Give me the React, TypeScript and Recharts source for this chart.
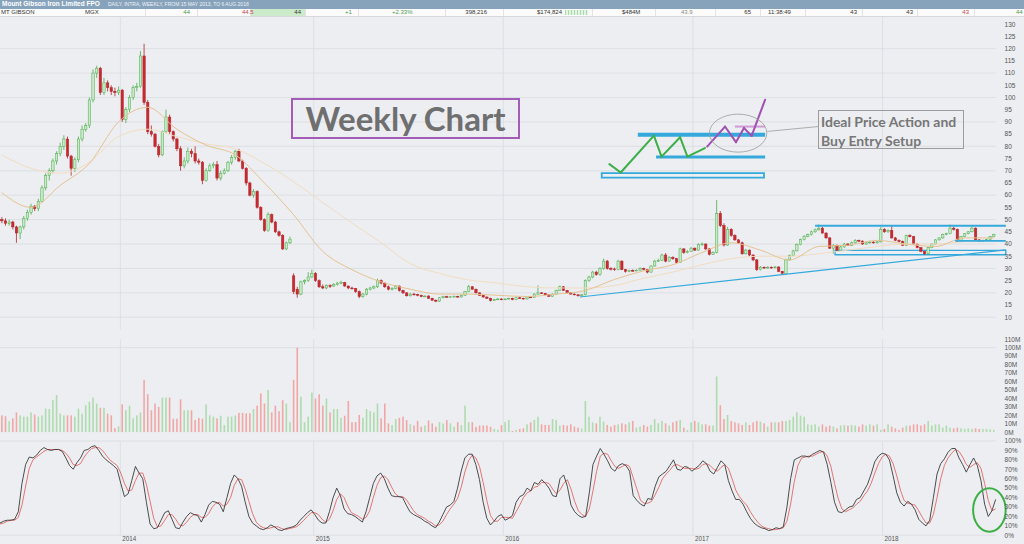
import React from 'react';
import {
  ComposedChart,
  Bar,
  Line,
  XAxis,
  YAxis,
  CartesianGrid,
  ReferenceLine,
  ReferenceArea,
  ReferenceDot,
} from 'recharts';

// MGX weekly bars, 15 May 2013 .. 6 Aug 2018, [open, high, low, close] in cents
const candles2013 = [
  [50, 51, 48.5, 49.5], [49.5, 50.5, 47.5, 48.5], [48.5, 50, 47.5, 49], [49, 49.5, 46, 47], [47, 47.5, 40.5, 44.5],
  [44.5, 47.5, 42, 47], [47, 51.5, 46, 50.5], [50.5, 54, 49.5, 53], [53, 56.5, 52, 55.5], [55.5, 56, 53.5, 54.5],
  [54.5, 58.5, 53.5, 57.5], [57.5, 64, 57, 63], [63, 69, 62, 68], [68, 71, 66, 70], [70, 75, 69, 74],
  [74, 78, 72.5, 77], [77, 81.5, 76, 80], [80, 84.5, 78.5, 83], [83, 84, 75, 76], [76, 76.5, 68, 71],
  [71, 75.5, 69.5, 74.5], [74.5, 84, 73.5, 83], [83, 88.5, 82, 87], [87, 89.5, 86, 88.5], [88.5, 100, 87.5, 99],
  [99, 111.5, 98, 110], [110, 113, 108, 112], [112, 112.5, 101, 102], [102, 108, 101, 106], [106, 107, 102.5, 104],
  [104, 105, 101, 102.5], [102.5, 104, 100.5, 102], [102, 104.5, 101, 103],
];
const candles2014 = [
  [103, 103.5, 90, 91], [91, 96, 89.5, 95], [95, 101, 94, 100], [100, 105, 99, 104], [104, 106, 102.5, 104.5],
  [104.5, 119, 104, 117], [117, 122, 97, 98], [98, 99, 85, 86], [86, 88.5, 84, 85], [85, 85.5, 79.5, 80],
  [80, 81, 75.5, 76.5], [76.5, 86.5, 76, 86], [86, 95, 85.5, 92], [92, 93, 85, 86], [86, 86.5, 82, 83],
  [83, 83.5, 78, 79], [79, 80, 70, 72], [72, 75.5, 71, 74], [74, 79.5, 73, 78], [78, 79, 75.5, 77],
  [77, 80, 73, 74], [74, 75, 72.5, 73.5], [73.5, 74, 64.5, 66], [66, 71, 65.5, 70], [70, 73, 69.5, 72],
  [72, 73.5, 71, 72.5], [72.5, 74, 66, 67], [67, 70, 66, 69], [69, 71, 68.5, 70], [70, 74, 69.5, 73.5],
  [73.5, 76.5, 72.5, 75.5], [75.5, 78.5, 74.5, 78], [78, 79, 73.5, 74], [74, 74.5, 70.5, 71], [71, 71.5, 64, 65],
  [65, 65.5, 59.5, 60], [60, 62.5, 59, 61.5], [61.5, 62, 54.5, 55], [55, 55.5, 49.5, 50], [50, 50.5, 45, 45.5],
  [45.5, 53, 45, 52], [52, 52.5, 48.5, 49], [49, 49.5, 44.5, 45], [45, 45.5, 43, 43.5], [43.5, 44, 37.5, 38],
  [38, 41, 37.5, 40.5], [40.5, 43, 40, 42], [27, 28, 19.5, 20.5], [21.5, 22.5, 18, 19.5], [19.5, 25, 19, 24.5],
  [24.5, 25.5, 23.5, 25], [25, 28.5, 24.5, 26.5],
];
const candles2015 = [
  [26.5, 29.5, 26, 28], [28, 28.5, 24.5, 25], [25, 25.5, 22, 22.5], [22.5, 23.5, 21.5, 22], [22, 23.5, 21.5, 23],
  [23, 23.5, 22, 22.8], [22.8, 24, 22.5, 23.5], [23.5, 24.5, 23, 24], [24, 25, 23.5, 24.2], [24.2, 24.5, 22.5, 22.8],
  [22.8, 23, 21.5, 22], [22, 22.5, 21.3, 21.8], [21.8, 22, 20, 20.5], [20.5, 21, 17.8, 18.5], [18.5, 20, 18, 19.5],
  [19.5, 22, 19, 21.5], [21.5, 22.5, 21, 22], [22, 23, 21.5, 22.5], [22.5, 25.8, 22, 25], [25, 25.5, 23.5, 24],
  [24, 24.3, 22, 22.5], [22.5, 23, 21, 21.5], [21.5, 22.3, 21, 21.8], [21.8, 23.2, 21.5, 22.8], [22.8, 23, 20.5, 21],
  [21, 21.3, 19.5, 20], [20, 20.3, 18.5, 18.8], [18.8, 20, 18.5, 19.5], [19.5, 20, 19, 19.3], [19.3, 19.6, 18.6, 19],
  [19, 19.3, 18.2, 18.5], [18.5, 19, 18.2, 18.7], [18.7, 19, 17.5, 17.8], [17.8, 18, 16.8, 17], [17, 17.3, 16.2, 16.6],
  [16.6, 18.3, 16.4, 18], [18, 18.8, 17.7, 18.5], [18.5, 18.8, 18, 18.2], [18.2, 18.7, 18, 18.4], [18.4, 18.9, 18.2, 18.6],
  [18.6, 18.8, 18, 18.3], [18.3, 19.3, 18.1, 19], [19, 20.8, 18.8, 20.5], [20.5, 23.2, 20.3, 22.5], [22.5, 22.8, 21.2, 21.5],
  [21.5, 21.7, 19.8, 20], [20, 20.2, 18.8, 19], [19, 19.2, 18, 18.3], [18.3, 18.5, 17.5, 17.8], [17.8, 18, 16.5, 16.8],
  [16.8, 17.5, 16.6, 17.2], [17.2, 17.8, 17, 17.5],
];
const candles2016 = [
  [17.5, 17.8, 17, 17.2], [17.2, 17.7, 17, 17.5], [17.5, 18, 17.3, 17.8], [17.8, 18, 17, 17.2], [17.2, 18.2, 17, 18],
  [18, 18.3, 17.6, 17.8], [17.8, 18, 17.3, 17.5], [17.5, 18.5, 17.3, 18.3], [18.3, 18.6, 18, 18.2], [18.2, 19.8, 18, 19.5],
  [19.5, 23, 19.3, 20], [20, 20.3, 19.5, 19.8], [19.8, 20, 19, 19.2], [19.2, 19.4, 18.4, 18.6], [18.6, 19.7, 18.4, 19.5],
  [19.5, 21.3, 19.3, 21], [21, 23, 20.8, 22.5], [22.5, 22.8, 20.8, 21], [21, 21.2, 19.8, 20], [20, 20.2, 19.3, 19.5],
  [19.5, 19.8, 19, 19.2], [19.2, 19.4, 18.5, 18.8], [18.8, 19.5, 18.5, 19.2], [19.2, 25.5, 19, 25], [25, 27, 24.5, 26.5],
  [26.5, 29, 26, 28.5], [28.5, 29, 27, 27.5], [27.5, 30.5, 27, 30], [30, 34, 29.5, 33], [33, 33.5, 29.5, 30],
  [30, 30.5, 29.2, 29.8], [29.8, 30.3, 29, 29.5], [29.5, 33.5, 29.2, 33], [33, 33.3, 29.3, 29.5], [29.5, 29.8, 28.3, 28.8],
  [28.8, 29.5, 28.5, 29.2], [29.2, 29.6, 28.6, 29], [29, 29.6, 28.8, 29.3], [29.3, 30.5, 29, 30], [30, 30.3, 29.3, 29.6],
  [29.6, 29.8, 28, 28.5], [28.5, 31.3, 28.3, 31], [31, 33.5, 30.8, 33], [33, 34, 32.6, 33.3], [33.3, 36, 33, 35.5],
  [35.5, 36.3, 32.5, 33], [33, 35, 32.8, 34.5], [34.5, 35, 33.5, 34], [34, 34.3, 32, 32.5], [32.5, 38.5, 32.3, 38],
  [38, 38.3, 36, 36.5], [36.5, 37.5, 36.2, 37],
];
const candles2017 = [
  [37, 38.8, 36.8, 38.3], [38.3, 38.6, 37.2, 37.5], [37.5, 40.3, 37.3, 39.8], [39.8, 40.6, 39.3, 40], [40, 40.2, 37.6, 38],
  [38, 38.3, 35.3, 35.8], [35.8, 37, 35.5, 36.5], [36.5, 58, 36.2, 52.5], [52.5, 53.5, 47, 47.5], [47.5, 48.5, 39, 39.6],
  [39.6, 47, 39.3, 46], [46, 46.5, 43, 43.5], [43.5, 44, 41.3, 41.7], [41.7, 42, 40, 40.5], [40.5, 41, 35.6, 36],
  [36, 38, 35.7, 37.5], [37.5, 37.8, 35, 35.5], [35.5, 35.8, 33, 33.5], [33.5, 33.8, 29, 29.5], [29.5, 31, 29.2, 30.5],
  [30.5, 30.8, 29.8, 30.2], [30.2, 30.9, 29.9, 30.5], [30.5, 30.8, 29.9, 30.3], [30.3, 31, 30, 30.6], [30.6, 30.9, 28.5, 28.8],
  [28.8, 29, 27.6, 28], [28, 34, 27.8, 33.5], [33.5, 35.7, 33.2, 35.2], [35.2, 37.6, 35, 37.2], [37.2, 40.2, 37, 39.8],
  [39.8, 42.2, 39.5, 41.8], [41.8, 43.6, 41.5, 43.2], [43.2, 44.2, 42.8, 43.8], [43.8, 45.5, 43.5, 45], [45, 46.3, 44.6, 45.8],
  [45.8, 48, 45.5, 46.5], [46.5, 47, 44.2, 44.5], [44.5, 44.8, 42.2, 42.5], [42.5, 42.8, 38, 38.3], [38.3, 40, 36, 39.5],
  [39.5, 39.8, 37.2, 37.5], [37.5, 39.2, 37.2, 38.8], [38.8, 40.4, 38.5, 40], [40, 40.4, 39.2, 39.5], [39.5, 41, 39.2, 40.5],
  [40.5, 42, 40.2, 41.5], [41.5, 41.8, 40.8, 41.2], [41.2, 41.5, 39.7, 40], [40, 40.9, 39.7, 40.5], [40.5, 41.1, 40.2, 40.8],
  [40.8, 41.1, 40.2, 40.5], [40.5, 41.2, 40.2, 40.9],
];
const candles2018 = [
  [40.9, 47, 40.6, 46], [46, 46.5, 44.6, 45], [45, 46, 44.6, 45.6], [45.6, 47.5, 42.2, 42.5], [42.5, 42.9, 41.2, 41.5],
  [41.5, 41.9, 40.7, 41], [41, 41.4, 39.2, 39.5], [39.5, 43.8, 39.2, 43.5], [43.5, 44, 42.7, 43], [43, 43.3, 39.7, 40],
  [40, 40.3, 38.2, 38.5], [38.5, 38.8, 36.7, 37], [37, 37.3, 35.5, 36], [36, 38.8, 35.8, 38.5], [38.5, 40.3, 38.3, 40],
  [40, 42, 39.8, 41.7], [41.7, 42.8, 41.4, 42.5], [42.5, 44.3, 42.2, 44], [44, 44.6, 43.6, 44.3], [44.3, 48, 44, 46.5],
  [46.5, 47, 45.5, 46], [46, 46.3, 41, 41.2], [41.2, 43.3, 41, 43], [43, 44.5, 42.8, 44.2], [44.2, 45.3, 44, 45],
  [45, 47.5, 44.8, 46.5], [46.5, 46.8, 41.5, 41.7], [41.7, 42, 40.9, 41.2], [41.2, 41.8, 40.9, 41.5], [41.5, 42.2, 41.2, 41.8],
  [41.8, 43.3, 41.6, 43], [43, 44.2, 42.8, 44],
];

// weekly volume, millions of shares
const volume2013 = [20, 19, 13, 16.5, 23.5, 20, 18.5, 18.5, 23.5, 21, 18.5, 20, 28, 27.5, 38, 44, 22, 20, 20, 20, 18.5, 28, 22, 32, 36, 41, 34, 29, 29, 22, 20, 5, 7];
const volume2014 = [33, 26, 31.5, 16.5, 20, 23.5, 62, 45, 26, 34, 30, 41, 41, 41, 16, 16, 39, 26, 26, 26, 14.5, 17, 16, 33, 20, 18.5, 16.5, 19.5, 8.5, 18.5, 18.5, 20, 23, 23, 22.5, 22.5, 27.5, 31.5, 46, 34, 50, 23.5, 31.5, 25, 38, 34, 12, 62, 100, 42, 12, 18.5];
const volume2015 = [47, 40, 45, 31.5, 40, 23.5, 27.5, 27.5, 17, 19.5, 37, 12, 12, 20.5, 17, 27.5, 25, 23.5, 34, 16.5, 34, 10.5, 8.5, 15.5, 17, 18.5, 14.5, 9.5, 8, 13.5, 6.5, 8, 14, 10.5, 6.5, 12, 10.5, 14.5, 10.5, 6.5, 12, 8.5, 31.5, 12, 12, 6.5, 8, 8, 8, 6.5, 4, 3];
const volume2016 = [8.5, 12, 14.5, 1.6, 2.8, 4, 4.7, 9.4, 11.8, 14.6, 18.5, 9.4, 8.7, 8.7, 15.7, 14.6, 7.9, 8.7, 7.9, 9.4, 6.7, 5.5, 4.7, 37, 18.5, 11.8, 10.6, 18.5, 12.6, 8.7, 6.7, 8.7, 9.4, 10.6, 9.4, 11.8, 13.4, 5.5, 6.7, 8.7, 6.7, 8.7, 15.7, 10.6, 13.4, 10.6, 7.9, 11.8, 13.4, 14.6, 5.5, 2.8];
const volume2017 = [11.8, 13.4, 11.8, 9.4, 9.4, 7.9, 7.9, 66, 32, 15.7, 20.5, 13.4, 11.8, 10.6, 8.7, 11.8, 8.7, 11.8, 13.4, 12.6, 10.6, 6.7, 11.8, 11.8, 11.8, 13.4, 13.4, 14.6, 18.5, 23.6, 19.7, 18.5, 9.4, 8.7, 9.4, 6.7, 9.4, 6.7, 7.9, 6.7, 4.7, 7.9, 8.7, 7.9, 8.7, 7.9, 6.7, 9.4, 7.9, 9.4, 7.9, 9.4];
const volume2018 = [2.8, 4, 9.4, 6.7, 4.7, 2.8, 5.5, 7.9, 7.9, 9.4, 9.4, 7.9, 9.4, 13.4, 7.9, 9.4, 9.4, 5.5, 7.9, 5.5, 4.7, 5.5, 4.7, 4, 4.7, 4, 4.7, 4, 4, 4, 3.5, 3];

// slow stochastic, %K (black) and %D (red)
const stochK2013 = [13, 15, 16, 16, 17, 25, 55, 75, 83, 82, 85, 90, 93, 91, 90, 91, 91, 89, 82, 74, 70, 77, 82, 90, 91, 94, 95, 90, 84, 80, 77, 74, 70];
const stochK2014 = [55, 41, 44, 58, 73, 66, 60, 35, 12, 7, 8, 16, 24, 26, 17, 8, 7, 14, 20, 24, 22, 21, 14, 22, 32, 36, 35, 33, 25, 40, 55, 64, 60, 52, 35, 20, 13, 10, 7, 6, 8, 11, 9, 6, 5, 7, 8, 9, 11, 16, 20, 24];
const stochK2015 = [27, 22, 16, 13, 13, 25, 40, 50, 42, 28, 23, 22, 20, 17, 14, 25, 40, 55, 63, 66, 60, 50, 42, 41, 41, 40, 32, 25, 22, 20, 18, 15, 13, 10, 8, 14, 22, 30, 32, 36, 50, 68, 82, 86, 86, 75, 59, 35, 18, 11, 15, 20];
const stochK2016 = [22, 16, 18, 21, 35, 41, 43, 50, 47, 56, 54, 59, 55, 50, 42, 41, 60, 64, 52, 32, 25, 21, 19, 20, 45, 75, 84, 92, 86, 79, 71, 68, 74, 76, 74, 68, 42, 37, 33, 31, 39, 38, 52, 62, 65, 68, 74, 80, 70, 69, 73, 72];
const stochK2017 = [68, 71, 74, 79, 76, 68, 65, 72, 79, 75, 58, 47, 38, 38, 33, 25, 18, 13, 10, 8, 7, 5, 6, 8, 7, 9, 30, 60, 80, 82, 84, 84, 83, 86, 88, 90, 88, 75, 56, 35, 25, 24, 27, 30, 31, 38, 40, 47, 54, 65, 78, 84];
const stochK2018 = [87, 86, 80, 63, 45, 35, 31, 36, 33, 27, 17, 13, 10, 16, 40, 65, 76, 81, 88, 92, 92, 82, 75, 67, 75, 82, 74, 58, 33, 20, 26, 38];
const stochD2013 = [12, 13, 15, 16, 16, 19, 32, 52, 71, 80, 83, 86, 89, 91, 91, 91, 91, 90, 87, 82, 75, 74, 76, 83, 88, 92, 93, 93, 90, 85, 80, 77, 74];
const stochD2014 = [66, 55, 47, 48, 58, 66, 66, 54, 36, 18, 9, 10, 16, 22, 22, 17, 11, 10, 14, 19, 22, 22, 19, 19, 23, 30, 34, 35, 31, 33, 40, 53, 60, 59, 49, 36, 23, 14, 10, 8, 7, 8, 9, 9, 7, 6, 7, 8, 9, 12, 16, 20];
const stochD2015 = [24, 24, 22, 17, 14, 17, 26, 38, 44, 40, 31, 24, 22, 20, 17, 19, 26, 40, 53, 61, 63, 59, 51, 44, 41, 41, 38, 32, 26, 22, 20, 18, 15, 13, 10, 11, 15, 22, 28, 33, 39, 51, 67, 79, 85, 82, 73, 56, 37, 21, 15, 15];
const stochD2016 = [19, 19, 19, 18, 25, 32, 40, 45, 47, 51, 52, 56, 56, 55, 49, 44, 48, 55, 59, 49, 36, 26, 22, 20, 28, 47, 68, 84, 87, 86, 79, 73, 71, 73, 75, 73, 61, 49, 37, 34, 34, 36, 43, 51, 60, 65, 69, 74, 75, 73, 71, 71];
const stochD2017 = [71, 70, 71, 75, 76, 74, 70, 68, 72, 75, 71, 60, 48, 41, 36, 32, 25, 19, 14, 10, 8, 7, 6, 6, 7, 8, 15, 33, 57, 74, 82, 83, 84, 84, 86, 88, 89, 84, 73, 55, 39, 28, 25, 27, 29, 33, 36, 42, 47, 55, 66, 76];
const stochD2018 = [83, 86, 84, 76, 63, 48, 37, 34, 33, 32, 26, 19, 13, 13, 22, 40, 60, 74, 82, 87, 91, 89, 83, 75, 72, 75, 77, 71, 55, 37, 26, 28];

// moving averages read every 8th week
const MA_STEP = 8;
const maFast = [61, 55, 64, 73, 90, 96, 87, 80.5, 76.5, 65, 52, 37, 29.5, 24.5, 21.5, 19.5, 19.5, 19, 18.5, 19.5, 21, 25.5, 29, 31.5, 36.5, 40.5, 37.5, 33.5, 39, 39.5, 41.5, 40, 39, 42.5, 42.5];
const maSlow = [76.5, 71, 69, 73.5, 84, 87, 84, 81, 79, 73, 65.5, 57, 48.6, 40.5, 32, 28, 25.3, 24, 22.5, 22, 22, 23, 26, 28.5, 31.5, 34, 35, 35, 36, 37.5, 39, 40, 40, 41, 41.5];

const yearLabels = ['2014', '2015', '2016', '2017', '2018'];
const yearFirstWeek = [33, 86, 138, 190, 242];
const priceTicks = [10, 15, 20, 25, 30, 35, 40, 45, 50, 55, 60, 65, 70, 75, 80, 85, 90, 95, 100, 105, 110, 115, 120, 125, 130];
const priceGrid = [10, 20, 30, 40, 50, 60, 70, 80, 90, 100, 110, 120];
const volumeTicks = [0, 10, 20, 30, 40, 50, 60, 70, 80, 90, 100, 110];
const stochTicks = [0, 10, 20, 30, 40, 50, 60, 70, 80, 90, 100];

// hand-drawn annotations, in (week, cents)
const greenSketch = [[167.1, 72.7], [170.2, 69.3], [179.3, 84.4], [181.4, 75.8], [186.5, 83.7], [188.5, 75.8], [193.3, 79.3]];
const purpleSketch = [[193.9, 79.9], [198.8, 88.1], [201.8, 81.7], [204, 87.5], [206.1, 84.3], [209.8, 99.1]];

const candles = [...candles2013, ...candles2014, ...candles2015, ...candles2016, ...candles2017, ...candles2018];
const volumes = [...volume2013, ...volume2014, ...volume2015, ...volume2016, ...volume2017, ...volume2018];
const stochK = [...stochK2013, ...stochK2014, ...stochK2015, ...stochK2016, ...stochK2017, ...stochK2018];
const stochD = [...stochD2013, ...stochD2014, ...stochD2015, ...stochD2016, ...stochD2017, ...stochD2018];

const data = candles.map(([o, h, l, c], i) => ({
  i,
  u: i + 0.5,
  o,
  h,
  l,
  c,
  range: [l, h],
  up: c >= o,
  vol: volumes[i],
  k: stochK[i],
  d: stochD[i],
  maFast: i % MA_STEP === 0 ? maFast[i / MA_STEP] : null,
  maSlow: i % MA_STEP === 0 ? maSlow[i / MA_STEP] : null,
}));

const WIDTH = 1024;
const AXIS_W = 28.4;
const WEEKS = 273;
const BG = '#eceef1';
const GRID = '#d9dce1';
const CYAN = '#35a9dc';
const FONT = '"Liberation Sans", Arial, sans-serif';

function Candle(props: any) {
  const { x, y, width, height, payload } = props;
  const { o, h, l, c, up } = payload;
  const top = Math.min(y, y + height);
  const span = Math.abs(height);
  const k = span / (h - l);
  const cx = x + width / 2;
  const yO = top + (h - o) * k;
  const yC = top + (h - c) * k;
  const bodyTop = Math.min(yO, yC);
  const bodyH = Math.max(Math.abs(yO - yC), 0.8);
  const line = up ? '#4dab4d' : '#b3242a';
  return (
    <g>
      <line x1={cx} x2={cx} y1={top} y2={top + span} stroke={line} strokeWidth={0.8} />
      <rect x={cx - 1.2} y={bodyTop} width={2.4} height={bodyH} fill={up ? '#c6e9c6' : '#c8292f'} stroke={line} strokeWidth={0.5} />
    </g>
  );
}

function VolumeBar(props: any) {
  const { x, y, width, height, payload } = props;
  const cx = x + width / 2;
  return <rect x={cx - 0.8} y={y} width={1.6} height={Math.max(height, 0)} fill={payload.up ? '#aedcae' : '#f2a7a7'} />;
}

const rightTick = (suffix: string) => (props: any) => (
  <text x={props.x} y={props.y + 2.3} fontSize={6.5} fill="#555" textAnchor="start" fontFamily={FONT}>
    {props.payload.value}
    {suffix}
  </text>
);

// year label under the stochastic panel, hung off a reference line's view box
const yearLabel = (label: string) => (p: any) => {
  const vb = p.viewBox || {};
  return (
    <text x={vb.x + 2} y={vb.y + vb.height + 5.5} fontSize={6.3} fill="#555" textAnchor="start" fontFamily={FONT}>
      {label}
    </text>
  );
};

function sketch(points: number[][], stroke: string, key: string) {
  return points.slice(1).map((p, n) => (
    <ReferenceLine
      key={`${key}-${n}`}
      xAxisId="t"
      segment={[{ x: points[n][0], y: points[n][1] }, { x: p[0], y: p[1] }]}
      stroke={stroke}
      strokeWidth={2}
      strokeLinecap="round"
      ifOverflow="visible"
    />
  ));
}

const headerCells: [string, number, 'l' | 'r', string][] = [
  ['MT GIBSON', 1, 'l', '#333'],
  ['MGX', 85, 'l', '#333'],
  ['44', 190, 'r', '#4f9a4f'],
  ['44.5', 242, 'l', '#c24848'],
  ['44', 301, 'r', '#333'],
  ['+1', 345, 'l', '#4f9a4f'],
  ['+2.33%', 392, 'l', '#4f9a4f'],
  ['398,216', 487, 'r', '#333'],
  ['$174,824', 537, 'l', '#333'],
  ['$484M', 622, 'l', '#333'],
  ['43.9', 681, 'l', '#8a8a8a'],
  ['65', 751, 'r', '#333'],
  ['11:38:49', 768, 'l', '#333'],
  ['43', 857, 'r', '#333'],
  ['43', 913, 'r', '#333'],
  ['43', 969, 'r', '#c24848'],
  ['44', 1016, 'l', '#4f9a4f'],
];
const headerSeparators = [145, 197, 250, 305, 358, 445, 503, 592, 655, 715, 760, 805, 862, 917, 974];

export default function App() {
  return (
    <div style={{ position: 'absolute', left: 0, top: 0, width: WIDTH, height: 544, background: BG, overflow: 'hidden', fontFamily: FONT }}>
      {/* price panel */}
      <div style={{ position: 'absolute', left: 0, top: 0 }}>
        <ComposedChart width={WIDTH} height={340} data={data} margin={{ top: 12, right: 0, bottom: 10.5, left: 0 }}>
          <CartesianGrid xAxisId="t" verticalValues={yearFirstWeek} horizontalValues={priceGrid} stroke={GRID} strokeWidth={0.8} />
          <XAxis dataKey="i" type="category" hide />
          <XAxis xAxisId="t" dataKey="u" type="number" domain={[0, WEEKS]} allowDataOverflow hide />
          <YAxis
            orientation="right"
            width={AXIS_W}
            domain={[5, 135]}
            ticks={priceTicks}
            interval={0}
            allowDataOverflow
            axisLine={false}
            tickLine={false}
            tickSize={0}
            tickMargin={9}
            tick={rightTick('')}
          />
          <Line dataKey="maSlow" type="monotone" connectNulls stroke="#f2dcc1" strokeWidth={1} dot={false} isAnimationActive={false} />
          <Line dataKey="maFast" type="monotone" connectNulls stroke="#e5c292" strokeWidth={1} dot={false} isAnimationActive={false} />
          <Bar dataKey="range" shape={Candle} isAnimationActive={false} />

          {/* trend lines drawn on the chart */}
          <ReferenceLine xAxisId="t" segment={[{ x: 159, y: 18.3 }, { x: 275.8, y: 37.6 }]} stroke={CYAN} strokeWidth={1.2} ifOverflow="visible" />
          <ReferenceLine xAxisId="t" segment={[{ x: 223.5, y: 47.5 }, { x: 275.8, y: 47.5 }]} stroke={CYAN} strokeWidth={2} ifOverflow="visible" />
          <ReferenceLine xAxisId="t" segment={[{ x: 261.9, y: 41.3 }, { x: 275.8, y: 41.3 }]} stroke={CYAN} strokeWidth={1.6} ifOverflow="visible" />
          <ReferenceArea xAxisId="t" x1={229} x2={275.8} y1={35.6} y2={37.4} stroke={CYAN} strokeWidth={1.4} fill="none" ifOverflow="visible" />

          {/* ideal setup sketch */}
          <ReferenceArea xAxisId="t" x1={165} x2={209.5} y1={67.2} y2={69} stroke={CYAN} strokeWidth={1.8} fill="#eef4f8" ifOverflow="visible" />
          <ReferenceLine xAxisId="t" segment={[{ x: 174.9, y: 84.7 }, { x: 209.8, y: 84.7 }]} stroke={CYAN} strokeWidth={4} ifOverflow="visible" />
          <ReferenceLine xAxisId="t" segment={[{ x: 179.9, y: 75.6 }, { x: 209.8, y: 75.6 }]} stroke={CYAN} strokeWidth={3} ifOverflow="visible" />
          {sketch(greenSketch, '#3daf47', 'g')}
          <ReferenceLine xAxisId="t" segment={[{ x: 201.5, y: 88.1 }, { x: 209.8, y: 88.1 }]} stroke="#cf9ad6" strokeWidth={2} ifOverflow="visible" />
          {sketch(purpleSketch, '#a24fb3', 'p')}
          <ReferenceDot
            xAxisId="t"
            x={202.4}
            y={85.4}
            r={1}
            ifOverflow="visible"
            shape={(p: any) => <ellipse cx={p.cx} cy={p.cy} rx={28.7} ry={19} fill="none" stroke="#9a9a9a" strokeWidth={0.8} />}
          />
          <ReferenceLine xAxisId="t" segment={[{ x: 210.4, y: 86.1 }, { x: 224.4, y: 88.1 }]} stroke="#9a9a9a" strokeWidth={0.8} ifOverflow="visible" />
        </ComposedChart>
      </div>

      {/* volume panel */}
      <div style={{ position: 'absolute', left: 0, top: 336 }}>
        <ComposedChart width={WIDTH} height={100} data={data} margin={{ top: 3.2, right: 0, bottom: 3.7, left: 0 }}>
          <CartesianGrid xAxisId="t" verticalValues={yearFirstWeek} horizontalValues={[100]} stroke={GRID} strokeWidth={0.8} />
          <XAxis dataKey="i" type="category" hide />
          <XAxis xAxisId="t" dataKey="u" type="number" domain={[0, WEEKS]} allowDataOverflow hide />
          <YAxis
            orientation="right"
            width={AXIS_W}
            domain={[0, 110]}
            ticks={volumeTicks}
            interval={0}
            allowDataOverflow
            axisLine={false}
            tickLine={false}
            tickSize={0}
            tickMargin={9}
            tick={rightTick('M')}
          />
          <Bar dataKey="vol" shape={VolumeBar} isAnimationActive={false} />
        </ComposedChart>
      </div>

      {/* stochastic panel */}
      <div style={{ position: 'absolute', left: 0, top: 436 }}>
        <ComposedChart width={WIDTH} height={108} data={data} margin={{ top: 5, right: 0, bottom: 8.7, left: 0 }}>
          <CartesianGrid xAxisId="t" verticalValues={yearFirstWeek} horizontalValues={[0, 100]} stroke={GRID} strokeWidth={0.8} />
          <XAxis dataKey="i" type="category" hide />
          <XAxis xAxisId="t" dataKey="u" type="number" domain={[0, WEEKS]} allowDataOverflow hide />
          <YAxis
            orientation="right"
            width={AXIS_W}
            domain={[0, 100]}
            ticks={stochTicks}
            interval={0}
            axisLine={false}
            tickLine={false}
            tickSize={0}
            tickMargin={9}
            tick={rightTick('%')}
          />
          <Line dataKey="d" type="linear" stroke="#e26767" strokeWidth={0.9} dot={false} isAnimationActive={false} />
          <Line dataKey="k" type="linear" stroke="#3a3a3a" strokeWidth={0.9} dot={false} isAnimationActive={false} />
          {yearFirstWeek.map((w, n) => (
            <ReferenceLine key={w} xAxisId="t" x={w} stroke="none" label={yearLabel(yearLabels[n])} />
          ))}
          <ReferenceDot
            xAxisId="t"
            x={271.3}
            y={26.8}
            r={1}
            ifOverflow="visible"
            shape={(p: any) => <ellipse cx={p.cx} cy={p.cy} rx={16.3} ry={21.7} fill="none" stroke="#3daf47" strokeWidth={2} />}
          />
        </ComposedChart>
      </div>

      {/* text boxes */}
      <div
        style={{
          position: 'absolute', left: 291, top: 98, width: 229, height: 41, boxSizing: 'border-box',
          border: '2px solid #a35cb8', display: 'flex', alignItems: 'center', justifyContent: 'center',
          fontFamily: 'Lato, "Open Sans", sans-serif', fontWeight: 700, fontSize: 33, color: '#6f6f6f', lineHeight: 1,
        }}
      >
        Weekly Chart
      </div>
      <div
        style={{
          position: 'absolute', left: 818, top: 110, width: 146, height: 39, boxSizing: 'border-box',
          border: '1px solid #9c9c9c', padding: '1px 0 0 2px', fontFamily: 'Lato, "Open Sans", sans-serif',
          fontWeight: 700, fontSize: 14, lineHeight: '19px', color: '#777', whiteSpace: 'nowrap',
        }}
      >
        Ideal Price Action and
        <br />
        Buy Entry Setup
      </div>

      {/* header rows */}
      <div style={{ position: 'absolute', left: 0, top: 0, width: WIDTH, height: 8.5, background: '#87a3bc' }}>
        <span style={{ position: 'absolute', left: 2, top: 0, fontSize: 6.5, lineHeight: '8.5px', fontWeight: 700, color: '#fff', whiteSpace: 'nowrap' }}>
          Mount Gibson Iron Limited FPO
        </span>
        <span style={{ position: 'absolute', left: 108, top: 0, fontSize: 5, lineHeight: '8.5px', color: '#eef3f8', whiteSpace: 'nowrap' }}>
          DAILY, INTRA, WEEKLY, FROM 15 MAY 2013, TO 6 AUG 2018
        </span>
      </div>
      <div style={{ position: 'absolute', left: 0, top: 8.5, width: WIDTH, height: 7.5, background: '#fbfbfb', borderBottom: '1px solid #d6d8dc' }}>
        <div style={{ position: 'absolute', left: 250, top: 0, width: 55, height: 7.5, background: '#cbebcb' }} />
        <div
          style={{
            position: 'absolute', left: 565, top: 1, width: 23, height: 5.5,
            background: 'repeating-linear-gradient(90deg, #a9dca9 0 1.5px, #e4f4e4 1.5px 3px)',
          }}
        />
        {headerSeparators.map((x) => (
          <div key={x} style={{ position: 'absolute', left: x, top: 0, width: 1, height: 7.5, background: '#e2e3e6' }} />
        ))}
        {headerCells.map(([text, x, align, color], n) => (
          <span
            key={n}
            style={{
              position: 'absolute', top: 0, fontSize: 6, lineHeight: '7.5px', color, whiteSpace: 'nowrap',
              ...(align === 'l' ? { left: x } : { right: WIDTH - x }),
            }}
          >
            {text}
          </span>
        ))}
      </div>
    </div>
  );
}
